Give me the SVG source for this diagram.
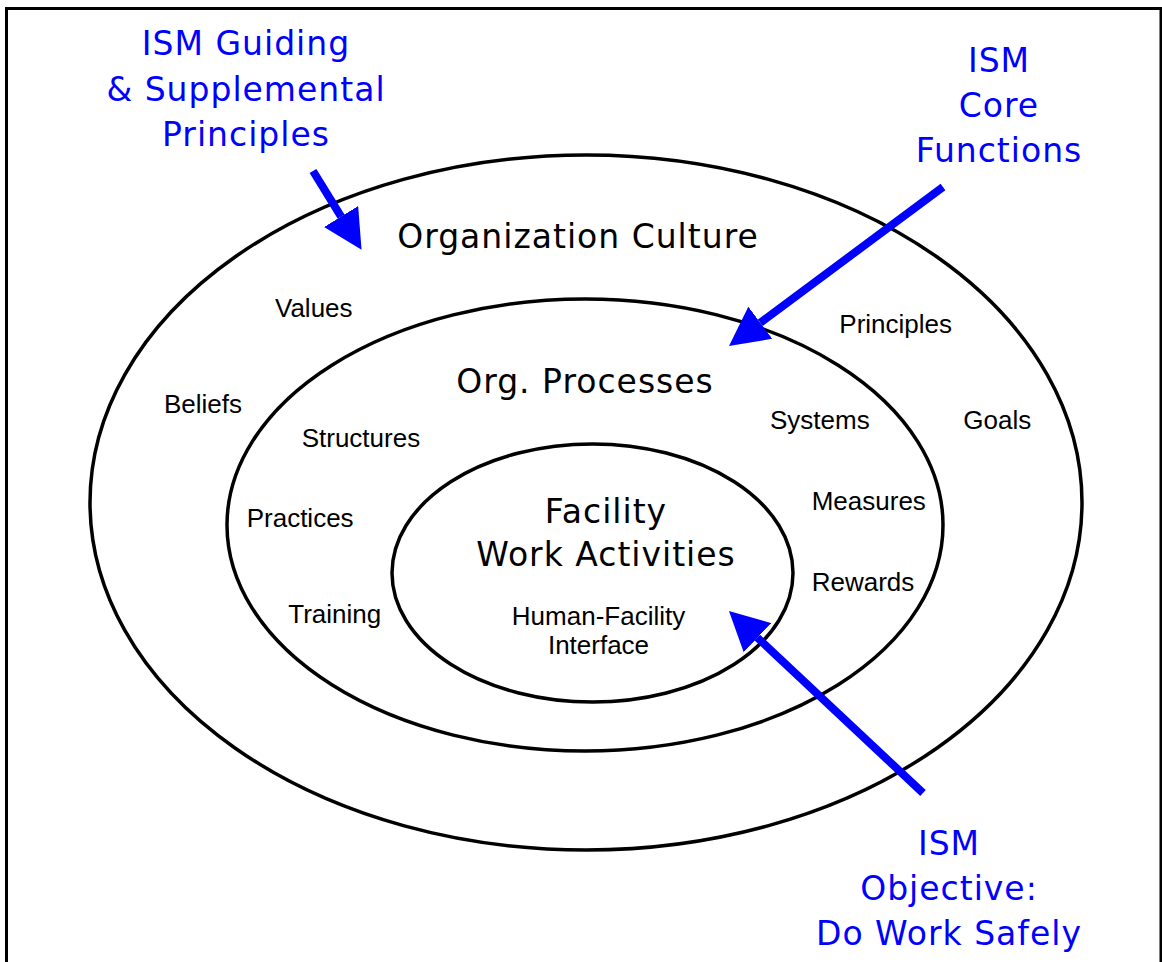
<svg xmlns="http://www.w3.org/2000/svg" width="1162" height="962" viewBox="0 0 1162 962">
<style>
.ring{fill:none;stroke:#000;stroke-width:3.5}
.big{font-family:"DejaVu Sans","Liberation Sans",sans-serif;font-size:33px;letter-spacing:1px;text-anchor:middle}
.blue{fill:#0000FF}
.dark{fill:#000}
.small{font-family:"Liberation Sans",Arial,sans-serif;font-size:26px;fill:#000}
.shaft{stroke:#0000FF;stroke-width:8;fill:none}
</style>
<defs>
<marker id="head" markerUnits="userSpaceOnUse" markerWidth="40" markerHeight="40" refX="0" refY="20" orient="auto" viewBox="0 0 40 40">
<path d="M0,0 L39,20 L0,40 Z" fill="#0000FF"/>
</marker>
</defs>
<rect x="0" y="0" width="1162" height="962" fill="#fff"/>
<rect id="frame" x="6.5" y="8.5" width="1154.5" height="990" fill="none" stroke="#000" stroke-width="3"/>
<g id="outer">
<ellipse class="ring" cx="586" cy="502.5" rx="496" ry="347.5"/>
<text class="big dark" x="578" y="248">Organization Culture</text>
<text class="small" x="275" y="316.7">Values</text>
<text class="small" x="164" y="413.3">Beliefs</text>
<text class="small" x="839.3" y="333.3">Principles</text>
<text class="small" x="963.3" y="429.3">Goals</text>
</g>
<g id="middle">
<ellipse class="ring" cx="585" cy="525" rx="358" ry="226"/>
<text class="big dark" x="585" y="393">Org. Processes</text>
<text class="small" x="301.7" y="446.7">Structures</text>
<text class="small" x="246.7" y="526.7">Practices</text>
<text class="small" x="288.3" y="622.7">Training</text>
<text class="small" x="770" y="429.3">Systems</text>
<text class="small" x="811.7" y="510">Measures</text>
<text class="small" x="811.7" y="590.7">Rewards</text>
</g>
<g id="inner">
<ellipse class="ring" cx="592.5" cy="573" rx="200.5" ry="129"/>
<text class="big dark" x="606" y="522.7">Facility</text>
<text class="big dark" x="606" y="566">Work Activities</text>
<text class="small" x="598.5" y="624.5" text-anchor="middle">Human-Facility</text>
<text class="small" x="598.5" y="653.5" text-anchor="middle">Interface</text>
</g>
<g id="label-guiding">
<text class="big blue" x="246" y="55">ISM Guiding</text>
<text class="big blue" x="246" y="100.5">&amp; Supplemental</text>
<text class="big blue" x="246" y="146">Principles</text>
</g>
<g id="label-core">
<text class="big blue" x="999" y="71.5">ISM</text>
<text class="big blue" x="999" y="116.5">Core</text>
<text class="big blue" x="999" y="161.5">Functions</text>
</g>
<g id="label-objective">
<text class="big blue" x="949" y="855">ISM</text>
<text class="big blue" x="949" y="900">Objective:</text>
<text class="big blue" x="949" y="945">Do Work Safely</text>
</g>
<g id="connectors">
<line class="shaft" x1="313" y1="171" x2="341.1" y2="216.6" marker-end="url(#head)"/>
<line class="shaft" x1="943" y1="187" x2="760.3" y2="322.7" marker-end="url(#head)"/>
<line class="shaft" x1="923" y1="793" x2="757.4" y2="637.7" marker-end="url(#head)"/>
</g>
</svg>
